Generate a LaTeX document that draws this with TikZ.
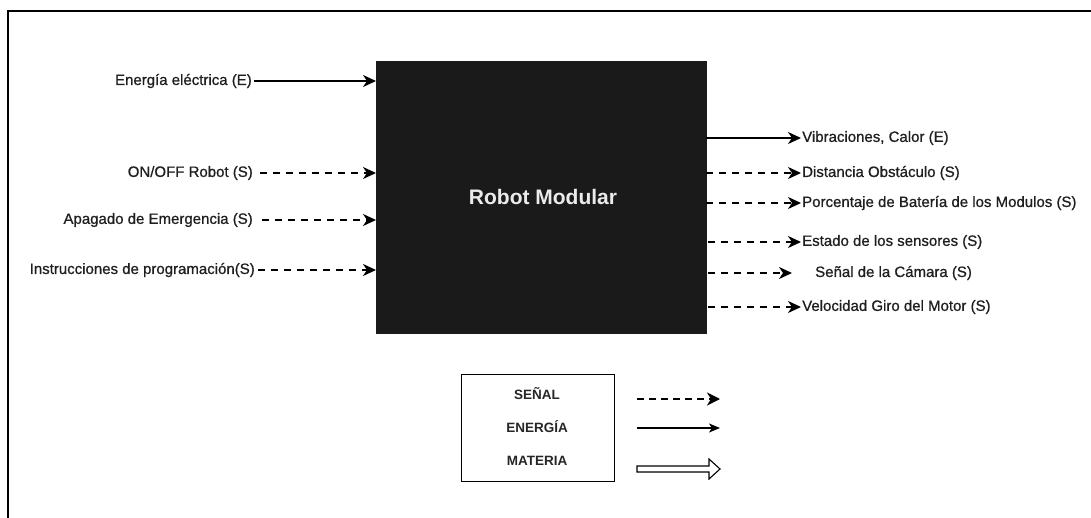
\documentclass[tikz,border=0pt]{standalone}
\usepackage{fontspec}
\setmainfont{Liberation Sans}
\newfontfamily\lblfont{Liberation Sans}[FakeBold=0.8]
\usetikzlibrary{arrows.meta}
\definecolor{boxfill}{HTML}{1A1A1A}
\tikzset{
  lbl/.style={font=\lblfont\fontsize{15}{18}\selectfont, inner sep=0pt, text=black!88},
  legtxt/.style={font=\bfseries\fontsize{13.5}{16}\selectfont, inner sep=0pt, text=black!85},
  tip/.style={-{Stealth[length=13pt,width=12pt,inset=4pt]}},
  flow/.style={line width=1.8pt, tip},
  signal/.style={flow, dash pattern=on 7pt off 6pt},
}
\begin{document}
\begin{tikzpicture}[x=1pt,y=-1pt]
\useasboundingbox (0,0) rectangle (1091,518);
% page frame
\draw[line width=1.5pt] (8,530) -- (8,11) -- (1100,11);

% main block
\node[draw=boxfill, fill=boxfill, minimum width=330pt, minimum height=272pt, inner sep=0pt, anchor=north west]
  (robot) at (376,61) {};
\node[font=\bfseries\fontsize{21}{25}\selectfont, text=white!92!black] (title) at (543,197) {Robot Modular};

% inputs
\node[lbl, anchor=east] (in1) at (252,81) {Energía eléctrica (E)};
\node[lbl, anchor=east] (in2) at (253,173) {ON/OFF Robot (S)};
\node[lbl, anchor=east] (in3) at (253,220) {Apagado de Emergencia (S)};
\node[lbl, anchor=east] (in4) at (255,270) {Instrucciones de programación(S)};

\draw[flow]   ([xshift=2pt]in1.east) -- (robot.west |- in1.east);
\draw[signal] ([xshift=7pt]in2.east) -- (robot.west |- in2.east);
\draw[signal] ([xshift=9pt]in3.east) -- (robot.west |- in3.east);
\draw[signal] ([xshift=3pt]in4.east) -- (robot.west |- in4.east);

% outputs
\node[lbl, anchor=west] (out1) at (802,138) {Vibraciones, Calor (E)};
\node[lbl, anchor=west] (out2) at (802,173) {Distancia Obstáculo (S)};
\node[lbl, anchor=west] (out3) at (802,203) {Porcentaje de Batería de los Modulos (S)};
\node[lbl, anchor=west] (out4) at (802,242) {Estado de los sensores (S)};
\node[lbl, anchor=west] (out5) at (815,273) {Señal de la Cámara (S)};
\node[lbl, anchor=west] (out6) at (802,307) {Velocidad Giro del Motor (S)};

\draw[flow]   (robot.east |- out1.west) -- ([xshift=-1pt]out1.west);
\draw[signal] (robot.east |- out2.west) -- ([xshift=-1pt]out2.west);
\draw[signal] (robot.east |- out3.west) -- ([xshift=-1pt]out3.west);
\draw[signal] ([xshift=2pt]robot.east |- out4.west) -- ([xshift=-1pt]out4.west);
\draw[signal] ([xshift=2pt]robot.east |- out5.west) -- ([xshift=-23pt]out5.west);
\draw[signal] ([xshift=2pt]robot.east |- out6.west) -- ([xshift=-1pt]out6.west);

% legend
\node[draw, line width=1.2pt, minimum width=153pt, minimum height=107pt, inner sep=0pt, anchor=north west]
  (legend) at (461,374) {};
\node[legtxt] (kS) at (537,394) {SEÑAL};
\node[legtxt] (kE) at (537,427) {ENERGÍA};
\node[legtxt] (kM) at (537,461) {MATERIA};

\coordinate (sA) at (637,399);  \coordinate (sB) at (720,399);
\coordinate (eA) at (637,428);  \coordinate (eB) at (720,428);
\draw[line width=2.2pt, dash pattern=on 7pt off 5pt, -{Stealth[length=13pt,width=13pt,inset=4pt]}] (sA) -- (sB);
\draw[line width=1.1pt, -{Stealth[length=11pt,width=9pt,inset=3pt]}] (eA) -- (eB);
% hollow arrow for matter flow
\draw[line width=1.1pt, fill=white, line join=miter]
  (637,466) -- (709,466) -- (709,459) -- (720,469) -- (709,479) -- (709,472) -- (637,472) -- cycle;
\end{tikzpicture}
\end{document}
